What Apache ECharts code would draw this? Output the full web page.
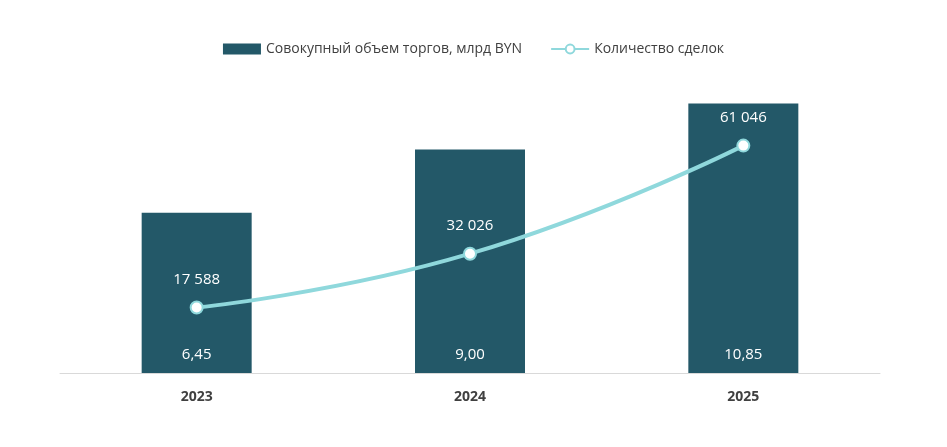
<!DOCTYPE html>
<html><head><meta charset="utf-8">
<script src="https://cdn.jsdelivr.net/npm/echarts@6/dist/echarts.min.js"></script>
<style>html,body{margin:0;background:#fff}#c{width:947px;height:447px}</style>
</head><body><div id="c"></div>
<script>
const categories = ['2023','2024','2025'];
const volume = [6.45, 9.00, 10.85];
const deals = [17588, 32026, 61046];
const fmtNum = v => String(v).replace(/\B(?=(\d{3})+(?!\d))/g, ' ');
const chart = echarts.init(document.getElementById('c'));
chart.setOption({
  animation:false,
  textStyle:{fontFamily:'Open Sans'},
  legend:{top:37,left:'center',itemGap:28,textStyle:{fontSize:14,color:'#404040'},
    data:[{name:'Совокупный объем торгов, млрд BYN',icon:'rect'},{name:'Количество сделок'}],
    itemWidth:38,itemHeight:11},
  grid:{left:60,right:67,top:75,bottom:74},
  xAxis:{type:'category',data:categories,axisTick:{show:false},
    axisLine:{lineStyle:{color:'#d9d9d9'}},
    axisLabel:{fontSize:14,fontWeight:'bold',color:'#404040',margin:17}},
  yAxis:[{type:'value',min:0,max:12,show:false},{type:'value',min:0,max:80000,show:false}],
  series:[
    {name:'Совокупный объем торгов, млрд BYN',type:'bar',data:volume,barWidth:110,
     itemStyle:{color:'#235868'},
     label:{show:true,position:'insideBottom',distance:11,color:'#fff',fontSize:15,
       formatter:p=>p.value.toFixed(2).replace('.',',')}},
    {name:'Количество сделок',type:'line',yAxisIndex:1,data:deals,smooth:true,
     symbol:'circle',symbolSize:12,
     lineStyle:{color:'#8fd8dc',width:4},
     itemStyle:{color:'#fff',borderColor:'#8fd8dc',borderWidth:2},
     label:{show:true,position:'top',distance:13,color:'#fff',fontSize:15,
       formatter:p=>fmtNum(p.value)}}
  ]
});
</script></body></html>
